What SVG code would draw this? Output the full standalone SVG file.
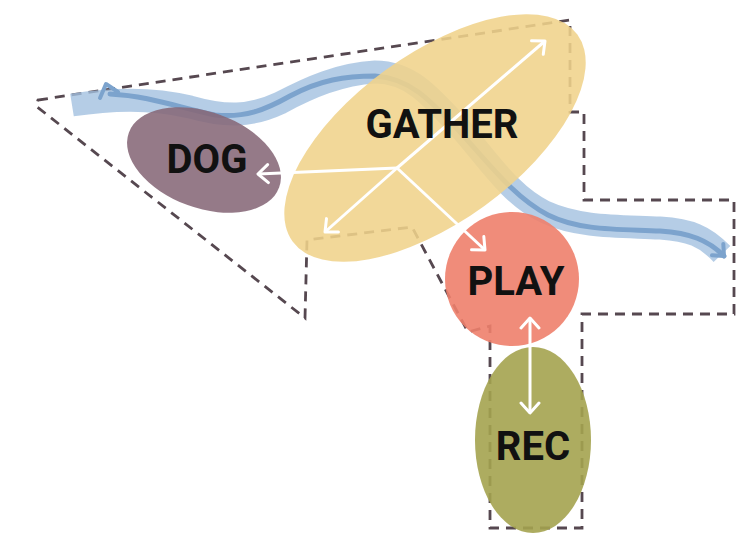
<svg xmlns="http://www.w3.org/2000/svg" width="755" height="534" viewBox="0 0 755 534">
<defs>
<style>
.lbl{font-family:Roboto,"Liberation Sans",sans-serif;font-weight:bold;font-size:40px;fill:#111;text-anchor:middle}
.arr{stroke:#fff;stroke-width:3;fill:none}
.band{fill:none;stroke:#a3c0e0;stroke-width:23;stroke-linecap:butt;stroke-linejoin:round;opacity:.8}
.core{fill:none;stroke:#7ca3cd;stroke-width:5;stroke-linecap:round;stroke-linejoin:round}
</style>
<marker id="ah" viewBox="-12 -12 24 24" refX="0" refY="0" markerWidth="24" markerHeight="24" markerUnits="userSpaceOnUse" orient="auto-start-reverse">
<path d="M-10,-9 L0,0 L-10,9" fill="none" stroke="#fff" stroke-width="3" stroke-linecap="round" stroke-linejoin="round"/>
</marker>
<marker id="bh" viewBox="-12 -12 24 24" refX="0" refY="0" markerWidth="24" markerHeight="24" markerUnits="userSpaceOnUse" orient="auto">
<path d="M-9,-8 L0,0 L-9,8" fill="none" stroke="#7ca3cd" stroke-width="4" stroke-linecap="round" stroke-linejoin="round"/>
</marker>
</defs>
<rect width="755" height="534" fill="#fff"/>
<g id="outline">
<path d="M38,100 L570,20 L570,112 L584,112 L584,200 L734,200 L734,314 L582,314 L582,528 L490,528 L490,326 L468,332 L412,227 L307,240 L305,318 L36,106 Z" fill="none" stroke="#564850" stroke-width="2.8" stroke-dasharray="10 7"/>
</g>
<g id="stream">
<path class="band" d="M72,105 C110,99 150,97 190,107 C225,117 250,117 280,103 C310,87 340,74 375,72 C410,72 430,95 460,128 C490,162 510,195 545,212 C580,228 620,226 660,228 C690,230 705,236 722,254"/>
<path class="core" d="M110,94 C150,96 180,108 215,115 C245,118 265,110 290,96 C320,80 345,76 375,76 C410,78 430,100 460,132 C490,165 515,198 548,215 C580,231 620,229 660,231 C690,233 708,240 724,256" marker-end="url(#bh)"/>
<path d="M100,98 L106,84 L118,92" fill="none" stroke="#7ca3cd" stroke-width="4" stroke-linecap="round" stroke-linejoin="round"/>
</g>
<g id="gather">
<ellipse cx="435" cy="138" rx="176" ry="84" transform="rotate(-36 435 138)" fill="#f0d38b" opacity=".88"/>
</g>
<g id="dog">
<ellipse cx="204" cy="160" rx="80" ry="48" transform="rotate(20 204 160)" fill="#866878" opacity=".88"/>
</g>
<g id="play">
<circle cx="512" cy="279" r="67" fill="#ee7f6c" opacity=".9"/>
</g>
<g id="rec">
<ellipse cx="533" cy="440" rx="58" ry="93" fill="#a4a34f" opacity=".9"/>
</g>
<g id="connectors">
<line class="arr" x1="397" y1="168" x2="258" y2="174" marker-end="url(#ah)"/>
<line class="arr" x1="397" y1="168" x2="325" y2="232" marker-end="url(#ah)"/>
<line class="arr" x1="397" y1="168" x2="545" y2="41" marker-end="url(#ah)"/>
<line class="arr" x1="397" y1="168" x2="485" y2="250" marker-end="url(#ah)"/>
<line class="arr" x1="530" y1="318" x2="530" y2="413" marker-start="url(#ah)" marker-end="url(#ah)"/>
</g>
<g id="labels">
<text class="lbl" x="442" y="138">GATHER</text>
<text class="lbl" x="207" y="173">DOG</text>
<text class="lbl" x="516" y="295">PLAY</text>
<text class="lbl" x="533" y="460">REC</text>
</g>
</svg>
